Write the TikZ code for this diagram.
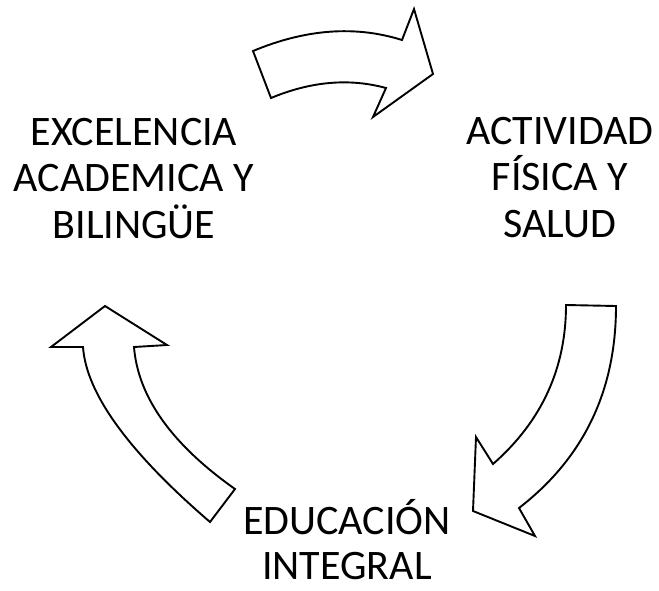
\documentclass[tikz,border=0pt]{standalone}
\usepackage{fontspec}
\setmainfont{Carlito}
\begin{document}
\begin{tikzpicture}[x=1pt,y=-1pt,
  blockarrow/.style={draw=black,line width=1.9pt,fill=white,line join=miter},
  label/.style={align=center,anchor=base,inner sep=0pt,font=\fontsize{42}{46.5}\selectfont}]
\useasboundingbox (0,0) rectangle (659,590);
% top arrow
\draw[blockarrow] (253,51) .. controls (305.7,29) and (355.3,25.3) .. (402,40)
  -- (414,9) -- (433,74) -- (373,117) -- (386,88)
  .. controls (349.3,78) and (311,81.3) .. (271,98) -- cycle;
% right arrow
\draw[blockarrow] (566,305) -- (616,306)
  .. controls (616,390.7) and (583.7,458) .. (519,508)
  -- (535,536) -- (473,511) -- (476,437) -- (493,464)
  .. controls (541.7,421.3) and (566,368.3) .. (566,305) -- cycle;
% left arrow
\draw[blockarrow] (83,347) -- (51,347) -- (105,306) -- (167,345) -- (134,347)
  .. controls (138,397) and (171.7,444.3) .. (235,489)
  -- (210,522)
  .. controls (128.7,452) and (86.3,393.7) .. (83,347) -- cycle;
\node[label] (exc) at (134,238) {EXCELENCIA\\ACADEMICA Y\\BILINGÜE};
\node[label] (act) at (560,237) {ACTIVIDAD\\FÍSICA Y\\SALUD};
\node[label,text depth=0pt,font=\fontsize{42}{45}\selectfont] (edu) at (347,579) {EDUCACIÓN\\INTEGRAL};
\end{tikzpicture}
\end{document}
